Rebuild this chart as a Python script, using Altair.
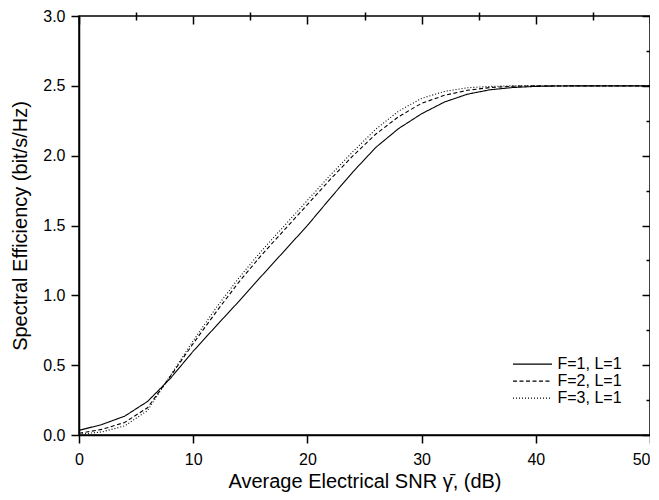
import altair as alt
import pandas as pd

# ---- data ----
snr_db = [0, 2, 4, 6, 8, 10, 12, 14, 16, 18, 20, 22, 24, 26, 28, 30, 32, 34, 36, 38, 40, 42, 44, 46, 48, 50]
se_f1 = [0.033, 0.075, 0.135, 0.24, 0.405, 0.60, 0.78, 0.957, 1.14, 1.32, 1.50, 1.695, 1.885, 2.06, 2.195,
         2.30, 2.384, 2.44, 2.472, 2.488, 2.496, 2.499, 2.5, 2.5, 2.5, 2.5]
se_f2 = [0.012, 0.04, 0.09, 0.195, 0.42, 0.655, 0.88, 1.095, 1.29, 1.47, 1.65, 1.83, 2.0, 2.155, 2.28,
         2.375, 2.432, 2.468, 2.488, 2.497, 2.5, 2.5, 2.5, 2.5, 2.5, 2.5]
se_f3 = [0.005, 0.022, 0.065, 0.175, 0.425, 0.675, 0.91, 1.125, 1.32, 1.5, 1.68, 1.86, 2.03, 2.19, 2.32,
         2.41, 2.46, 2.486, 2.496, 2.5, 2.5, 2.5, 2.5, 2.5, 2.5, 2.5]
series_names = ["F=1, L=1", "F=2, L=1", "F=3, L=1"]

x_major = [0, 10, 20, 30, 40, 50]
x_minor = [5, 15, 25, 35, 45]
y_major = [0.0, 0.5, 1.0, 1.5, 2.0, 2.5, 3.0]
y_minor = [0.25, 0.75, 1.25, 1.75, 2.25, 2.75]

rows = []
for name, vals in zip(series_names, [se_f1, se_f2, se_f3]):
    for x, y in zip(snr_db, vals):
        rows.append({"snr": x, "se": y, "series": name})
df = pd.DataFrame(rows)

FONT = "Liberation Sans"
xs = alt.Scale(domain=[0, 50], nice=False, zero=False)
ys = alt.Scale(domain=[0, 3], nice=False, zero=False)

base = alt.Chart(df)

lines = base.mark_line(color="black", strokeWidth=1.1).encode(
    x=alt.X("snr:Q", scale=xs,
            axis=alt.Axis(values=x_major, format="d", tickSize=8, tickWidth=1.5, domainWidth=1.5,
                          domainColor="black", tickColor="black", labelColor="black",
                          labelFontSize=16, labelFont=FONT, labelPadding=8,
                          labelAlign={"condition": {"test": "datum.value === 50", "value": "right"},
                                      "value": "center"},
                          title="Average Electrical SNR γ̄, (dB)", titleFont=FONT, titleFontSize=20,
                          titleFontWeight="normal", titleColor="black", titlePadding=4, grid=False)),
    y=alt.Y("se:Q", scale=ys,
            axis=alt.Axis(values=y_major, format=".1f", tickSize=8, tickWidth=1.5, domainWidth=1.5,
                          domainColor="black", tickColor="black", labelColor="black",
                          labelFontSize=16, labelFont=FONT, labelPadding=6,
                          title="Spectral Efficiency (bit/s/Hz)", titleFont=FONT, titleFontSize=20,
                          titleFontWeight="normal", titleColor="black", titlePadding=12, grid=False)),
    strokeDash=alt.StrokeDash(
        "series:N",
        scale=alt.Scale(domain=series_names, range=[[1, 0], [4, 2.5], [1, 2]]),
        legend=alt.Legend(title=None, orient="none", legendX=432.5, legendY=340.5, padding=0,
                          symbolType="M-1,0H5", symbolSize=169, symbolStrokeWidth=1.1,
                          symbolStrokeColor="black", labelFontSize=16, labelFont=FONT,
                          labelColor="black", labelOffset=30, rowPadding=0, clipHeight=15.2),
    ),
)

minor = base.mark_point(opacity=0).encode(
    x=alt.X("snr:Q", scale=xs,
            axis=alt.Axis(values=x_minor, tickSize=4, tickWidth=1.5, tickColor="black",
                          labels=False, domain=False, title=None, grid=False)),
    y=alt.Y("se:Q", scale=ys,
            axis=alt.Axis(values=y_minor, tickSize=4, tickWidth=1.5, tickColor="black",
                          labels=False, domain=False, title=None, grid=False)),
)

mirror_major = base.mark_point(opacity=0).encode(
    x=alt.X("snr:Q", scale=xs,
            axis=alt.Axis(orient="top", values=x_major, tickSize=8, tickWidth=1.5, tickColor="black",
                          offset=-8, labels=False, domain=False, title=None, grid=False)),
    y=alt.Y("se:Q", scale=ys,
            axis=alt.Axis(orient="right", values=y_major, tickSize=8, tickWidth=1.5, tickColor="black",
                          offset=-8, labels=False, domain=False, title=None, grid=False)),
)

mirror_minor = base.mark_point(opacity=0).encode(
    x=alt.X("snr:Q", scale=xs,
            axis=alt.Axis(orient="top", values=x_minor, tickSize=4, tickWidth=1.5, tickColor="black",
                          offset=-4, labels=False, domain=False, title=None, grid=False)),
    y=alt.Y("se:Q", scale=ys,
            axis=alt.Axis(orient="right", values=y_minor, tickSize=4, tickWidth=1.5, tickColor="black",
                          offset=-4, labels=False, domain=False, title=None, grid=False)),
)

chart = alt.layer(lines, minor, mirror_major, mirror_minor).resolve_axis(
    x="independent", y="independent"
).properties(
    width=571, height=419,
    autosize=alt.AutoSizeParams(type="none"),
    padding={"left": 71, "top": 8, "right": 0, "bottom": 66},
    background="white",
).configure_view(stroke="black", strokeWidth=1.5)

chart.save("out.html", embed_options={"renderer": "svg", "actions": False})
